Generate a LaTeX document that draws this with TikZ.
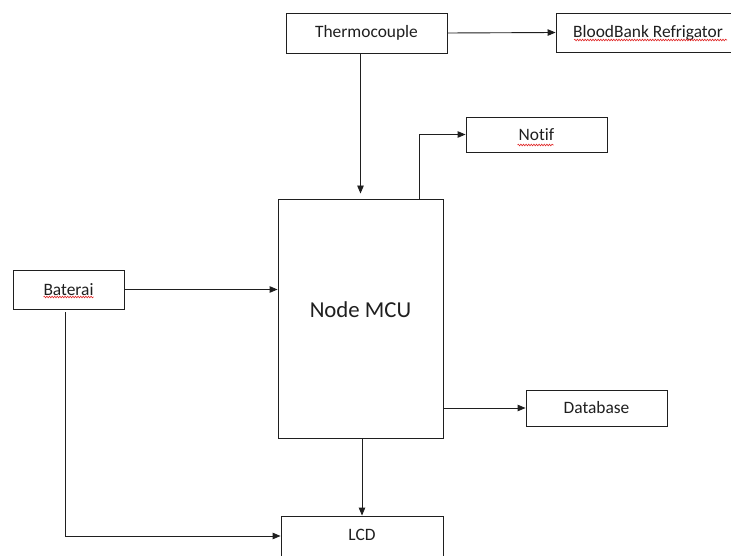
\documentclass[tikz,border=0pt]{standalone}
\usepackage{fontspec}
\setmainfont{Carlito}[Ligatures=NoCommon]
\usetikzlibrary{arrows.meta,calc,decorations.pathmorphing}
\definecolor{Ink}{HTML}{1F1F1F}
\definecolor{Spell}{HTML}{E02424}
\begin{document}
\begin{tikzpicture}[
      x=1pt,y=-1pt,
      box/.style={draw=Ink,line width=0.9pt,fill=white,inner sep=0pt,
        font=\fontsize{17.4}{20}\selectfont,text=Ink},
      arrow/.style={-{Triangle[length=8pt,width=6.5pt]},line width=0.9pt,color=Ink},
      spell/.style={draw=Spell,line width=0.6pt,
        decorate,decoration={snake,segment length=2.6pt,amplitude=0.8pt}}
    ]
      \clip (0,0) rectangle (731,556);
      \fill[white] (0,0) rectangle (731,556);
      \node[box,minimum width=161pt,minimum height=40pt] (thermo) at (366.5,33) {Thermocouple};
      \node[box,minimum width=190pt,minimum height=39pt] (blood) at (651,32.5) {\hspace*{-6pt}BloodBank Refrigator};
      \node[box,minimum width=141pt,minimum height=35pt] (notif) at (536.5,134.5) {Notif};
      \node[box,minimum width=165pt,minimum height=239pt,
        label={[font=\fontsize{22.8}{26}\selectfont,text=Ink,yshift=8.5pt]center:Node MCU}] (mcu) at (360.5,318.5) {};
      \node[box,minimum width=111pt,minimum height=39pt] (baterai) at (68.5,289.5) {Baterai};
      \node[box,minimum width=141pt,minimum height=36pt] (database) at (596.5,408) {Database};
      \node[box,minimum width=162pt,minimum height=40pt] (lcd) at (362,536) {\raisebox{3pt}{LCD}};
      % spell-check marks
      \draw[spell] ([shift={(-77,7.5)}]blood.center) -- ++(153,0);
      \draw[spell] ([shift={(-19,10.5)}]notif.center) -- ++(36,0);
      \draw[spell] ([shift={(-25,7.5)}]baterai.center) -- ++(50,0);
      \draw[arrow] (thermo.east) -- (blood.west);
      \draw[arrow,shorten >=5pt] (thermo.south -| mcu.north) -- (mcu.north);
      \draw[arrow] ([xshift=58.5pt]mcu.north) |- (notif.west);
      \draw[arrow] (baterai.east) -- (baterai.east -| mcu.west);
      \draw[arrow] ([shift={(-3.5,3)}]baterai.south) |- (lcd.west);
      \draw[arrow] (mcu.east |- database.west) -- (database.west);
      \draw[arrow] (mcu.south -| lcd.north) -- (lcd.north);
    \end{tikzpicture}
\end{document}
